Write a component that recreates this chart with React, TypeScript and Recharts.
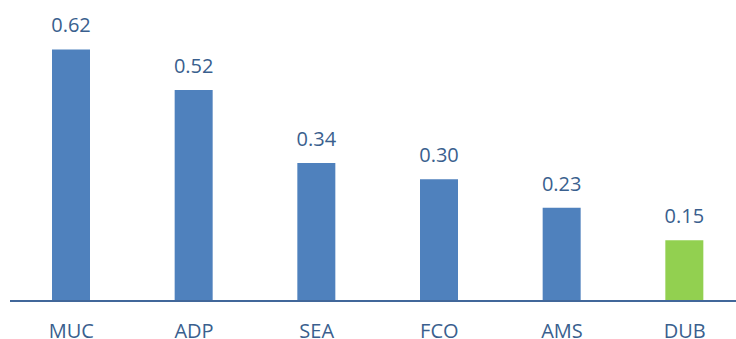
import { BarChart, Bar, XAxis, YAxis, LabelList, Cell } from "recharts";

const categories = ["MUC", "ADP", "SEA", "FCO", "AMS", "DUB"];
const values = [0.62, 0.52, 0.34, 0.3, 0.23, 0.15];
const highlight = "DUB";

const BLUE = "#4f81bd";
const GREEN = "#92d050";
const TEXT = "#3a5f8e";
const FONT = "Open Sans";

export default function App() {
  const data = categories.map((name, i) => ({ name, value: values[i] }));

  return (
    <div
      style={{
        position: "absolute",
        left: 0,
        top: 0,
        width: 736,
        height: 339,
        overflow: "hidden",
        background: "#fff",
      }}
    >
      <BarChart
        width={746}
        height={339}
        data={data}
        margin={{ top: 17, right: 0, left: 10, bottom: 0 }}
        barCategoryGap={0}
      >
        <YAxis hide domain={[0, 0.7]} />
        <XAxis
          dataKey="name"
          height={38}
          axisLine={{ stroke: "#41679a", strokeWidth: 2 }}
          tickLine={false}
          tick={{ fontSize: 20, fill: TEXT, fontFamily: FONT }}
          tickMargin={17}
          interval={0}
        />
        <Bar dataKey="value" barSize={38} isAnimationActive={false}>
          {data.map((d) => (
            <Cell key={d.name} fill={d.name === highlight ? GREEN : BLUE} />
          ))}
          <LabelList
            dataKey="value"
            position="top"
            offset={17}
            formatter={(v: number) => v.toFixed(2)}
            style={{ fontSize: 20, fill: TEXT, fontFamily: FONT }}
          />
        </Bar>
      </BarChart>
    </div>
  );
}
